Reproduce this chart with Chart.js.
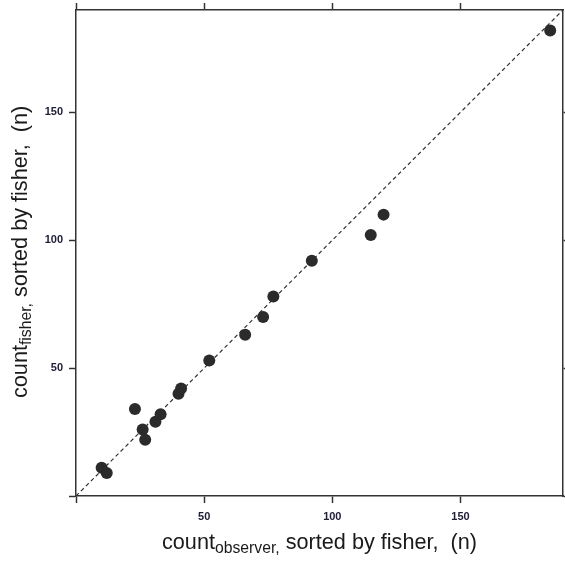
<!DOCTYPE html>
<html>
<head>
<meta charset="utf-8">
<script src="https://cdn.jsdelivr.net/npm/chart.js@4.4.1/dist/chart.umd.min.js"></script>
<style>
  html, body { margin: 0; padding: 0; background: #fff; }
  #wrap { width: 565px; height: 564px; }
</style>
</head>
<body>
<div id="wrap"><canvas id="myChart" width="565" height="564"></canvas></div>
<script>
// data
const observerCounts = [10, 12, 23, 26, 27, 31, 33, 40, 41, 52, 66, 73, 77, 92, 115, 120, 185];
const fisherCounts   = [11,  9, 34, 26, 22, 29, 32, 40, 42, 53, 63, 70, 78, 92, 102, 110, 182];
const diagonal = [0, 190];
const axisMin = 0;
const axisMax = 190;
const tickStep = 50;

const fontFamily = "'Liberation Sans', Arial, sans-serif";
const ink = '#2b2b2b';

// titles with subscript, drawn on the canvas
function drawSubTitle(ctx, main, sub, rest, x, y, sx) {
  ctx.save();
  ctx.translate(x, y);
  ctx.scale(sx, 1);
  ctx.fillStyle = '#1a1a1a';
  ctx.textBaseline = 'alphabetic';
  ctx.textAlign = 'left';
  ctx.font = '22px ' + fontFamily;
  ctx.fillText(main, 0, 0);
  let w = ctx.measureText(main).width;
  ctx.font = '16px ' + fontFamily;
  ctx.fillText(sub, w, 4);
  w += ctx.measureText(sub).width;
  ctx.font = '22px ' + fontFamily;
  ctx.fillText(rest, w, 0);
  ctx.restore();
}

function titleWidth(ctx, main, sub, rest) {
  ctx.save();
  ctx.font = '22px ' + fontFamily;
  let w = ctx.measureText(main).width + ctx.measureText(rest).width;
  ctx.font = '16px ' + fontFamily;
  w += ctx.measureText(sub).width;
  ctx.restore();
  return w;
}

const titlePlugin = {
  id: 'axisTitles',
  afterDraw(chart) {
    const ctx = chart.ctx;
    const rest = ' sorted by fisher,  (n)';
    const sx = 315 / titleWidth(ctx, 'count', 'observer,', rest);
    drawSubTitle(ctx, 'count', 'observer,', rest, 162, 549, sx);
    ctx.save();
    ctx.translate(27, 398);
    ctx.rotate(-Math.PI / 2);
    drawSubTitle(ctx, 'count', 'fisher,', rest, 0, 0, sx);
    ctx.restore();
  }
};

function axis(position, showLabels, size) {
  const horizontal = position === 'bottom' || position === 'top';
  return {
    type: 'linear',
    position: position,
    min: axisMin,
    max: axisMax,
    grid: {
      drawOnChartArea: false,
      drawTicks: true,
      tickLength: 7,
      tickColor: '#333',
      tickWidth: 1.5
    },
    border: { display: true, color: '#333', width: 1.5 },
    ticks: {
      display: showLabels,
      stepSize: tickStep,
      includeBounds: false,
      padding: horizontal ? 7 : 6,
      color: '#20203a',
      font: { family: fontFamily, size: 11, weight: 'bold' },
      callback: v => (v === 0 ? '' : v)
    },
    afterFit: s => {
      if (horizontal) s.height = size; else s.width = size;
      // keep the plot box exactly where the reference has it
      s.paddingLeft = s.paddingRight = s.paddingTop = s.paddingBottom = 0;
    }
  };
}

const ctx = document.getElementById('myChart').getContext('2d');

new Chart(ctx, {
  type: 'scatter',
  data: {
    datasets: [
      {
        label: 'counts',
        data: observerCounts.map((v, i) => ({ x: v, y: fisherCounts[i] })),
        pointRadius: 6,
        pointHoverRadius: 6,
        backgroundColor: ink,
        borderWidth: 0,
        xAxisID: 'x',
        yAxisID: 'y'
      },
      {
        label: '1:1',
        data: diagonal.map(v => ({ x: v, y: v })),
        showLine: true,
        borderColor: '#333',
        borderWidth: 1.2,
        borderDash: [4, 3],
        pointRadius: 0,
        fill: false,
        xAxisID: 'x',
        yAxisID: 'y'
      }
    ]
  },
  options: {
    responsive: false,
    animation: false,
    devicePixelRatio: 1,
    layout: { padding: 0, autoPadding: false },
    plugins: {
      legend: { display: false },
      tooltip: { enabled: false }
    },
    scales: {
      x: axis('bottom', true, 68),
      y: axis('left', true, 76),
      x2: axis('top', false, 10),
      y2: axis('right', false, 2)
    }
  },
  plugins: [titlePlugin]
});
</script>
</body>
</html>
